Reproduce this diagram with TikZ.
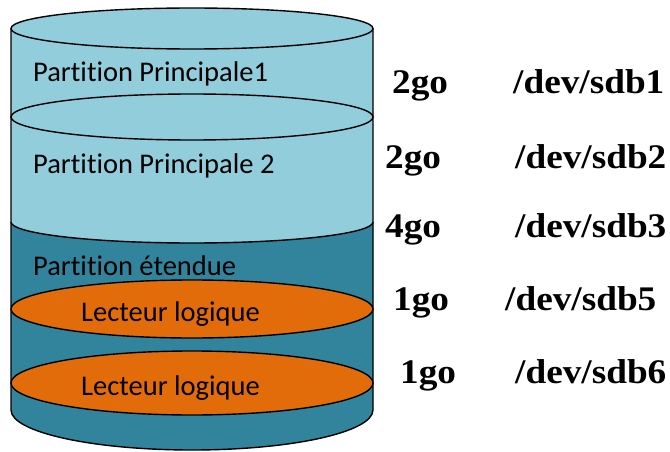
\documentclass[tikz,border=0pt]{standalone}
\usepackage{fontspec}
\setmainfont{Carlito}[Ligatures={NoCommon}]
\newfontfamily\serifb{Liberation Serif}[FakeStretch=1.08]
\definecolor{lightaqua}{RGB}{146,205,220}
\definecolor{darkaqua}{RGB}{49,132,155}
\definecolor{orangefill}{RGB}{227,108,10}
\begin{document}
\begin{tikzpicture}[x=1pt,y=1pt,
  outline/.style={draw=black,line width=1.4pt},
  parttext/.style={anchor=base west,inner sep=0pt,font=\fontsize{28.5}{30}\selectfont},
  sizetext/.style={anchor=base west,inner sep=0pt,font=\serifb\bfseries\fontsize{34.5}{36}\selectfont}]
\useasboundingbox (0,0) rectangle (670,451);
% body light
\fill[lightaqua] (11,422.5) -- (11,41) arc[start angle=180,end angle=360,x radius=181,y radius=40] -- (373,422.5) -- cycle;
% dark lower part
\fill[darkaqua] (11,229) -- (11,41) arc[start angle=180,end angle=360,x radius=181,y radius=40] -- (373,229) arc[start angle=360,end angle=180,x radius=181,y radius=21] -- cycle;
% body outline
\draw[outline] (11,422.5) -- (11,41) arc[start angle=180,end angle=360,x radius=181,y radius=40] -- (373,422.5);
% top ellipse
\draw[outline,fill=lightaqua] (192,422.5) ellipse[x radius=181,y radius=20.5];
% second partition top
\draw[outline,fill=lightaqua] (192,334) ellipse[x radius=181,y radius=23];
% boundary between primary and extended
\draw[outline] (11,229) arc[start angle=180,end angle=360,x radius=181,y radius=21];
% logical drives
\draw[outline,fill=orangefill] (192,142) ellipse[x radius=181,y radius=29];
\draw[outline,fill=orangefill] (192,68) ellipse[x radius=181,y radius=32];
% texts
\node[parttext] (p1) at (33,369.3) {Partition Principale1};
\node[parttext] (p2) at (33,278) {Partition Principale 2};
\node[parttext] (pe) at (33,176) {Partition étendue};
\node[parttext] (l1) at (81,129.3) {Lecteur logique};
\node[parttext] (l2) at (81,56) {Lecteur logique};
% sizes
\node[sizetext] (s1) at (392,358) {2go};
\node[sizetext] (d1) at (513,358) {/dev/sdb1};
\node[sizetext] (s2) at (385,283) {2go};
\node[sizetext] (d2) at (515,283) {/dev/sdb2};
\node[sizetext] (s3) at (385,214) {4go};
\node[sizetext] (d3) at (515,214) {/dev/sdb3};
\node[sizetext] (s4) at (393,141) {1go};
\node[sizetext] (d4) at (505,141) {/dev/sdb5};
\node[sizetext] (s5) at (400,68) {1go};
\node[sizetext] (d5) at (515,68) {/dev/sdb6};
\end{tikzpicture}
\end{document}
